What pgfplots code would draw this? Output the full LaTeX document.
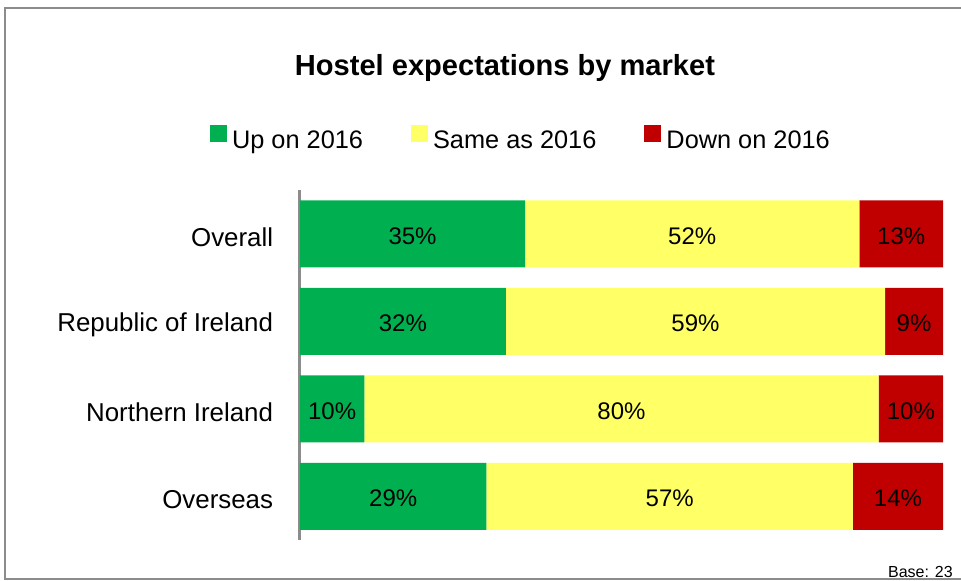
\documentclass[border=0pt]{standalone}
\usepackage{fontspec}
\setmainfont{Liberation Sans}
\usepackage{pgfplots}
\usepackage{pgfplotstable}
\pgfplotsset{compat=1.18}
\definecolor{cgreen}{HTML}{00B050}
\definecolor{cyellow}{HTML}{FFFF66}
\definecolor{cred}{HTML}{C00000}
\definecolor{cframe}{RGB}{140,140,140}
\pgfplotstableread{
y up same down
0 35 52 13
1 32 59 9
2 10 80 10
3 29 57 14
}\bardata
\pgfplotstableread{
x y v
17.5 0 35
61 0 52
93.5 0 13
16 1 32
61.5 1 59
95.5 1 9
5 2 10
50 2 80
95 2 10
14.5 3 29
57.5 3 57
93 3 14
}\labdata
\begin{document}
\begin{tikzpicture}
\useasboundingbox (0,0) rectangle (720.75pt,-435.75pt);
\draw[cframe, line width=1.5pt] (720.75pt,-6pt) -- (3.75pt,-6pt) -- (3.75pt,-434.25pt) -- (720.75pt,-434.25pt);
\node[font=\bfseries\fontsize{21.8}{26}\selectfont] at (378.75pt,-51pt) {Hostel expectations by market};
\node[anchor=east, font=\fontsize{12}{14}\selectfont, inner sep=0pt] at (714.75pt,-429pt) {Base: 23};
\begin{axis}[
  at={(225pt,-405pt)}, anchor=south west,
  width=482.25pt, height=262.5pt, scale only axis,
  xbar stacked,
  xmin=0, xmax=100, ymin=-0.5, ymax=3.5,
  y dir=reverse,
  bar width=50.25pt,
  axis x line=none,
  axis y line*=left,
  y axis line style={cframe, line width=2.25pt},
  ytick={0,1,2,3},
  yticklabels={Overall, Republic of Ireland, Northern Ireland, Overseas},
  major tick length=0pt,
  y tick label style={font=\fontsize{19.4}{23}\selectfont, inner sep=0pt, xshift=-20pt, yshift=-2.5pt},
  legend style={at={(0.3421,1.150)}, anchor=center, draw=none, fill=none, inner sep=0pt,
    font=\fontsize{19}{23}\selectfont,
    nodes={inner sep=0pt},
    /tikz/every odd column/.append style={column sep=3.75pt},
    /tikz/every even column/.append style={column sep=36pt}},
  legend columns=3,
  legend image code/.code={\fill[#1] (0pt,-0.75pt) rectangle (12.75pt,12pt);},
]
\addplot[fill=cgreen, draw=none] table[x=up, y=y] {\bardata};
\addplot[fill=cyellow, draw=none] table[x=same, y=y] {\bardata};
\addplot[fill=cred, draw=none] table[x=down, y=y] {\bardata};
\legend{Up on 2016, Same as 2016, Down on 2016}
\end{axis}
\begin{axis}[
  at={(225pt,-405pt)}, anchor=south west,
  width=482.25pt, height=262.5pt, scale only axis,
  xmin=0, xmax=100, ymin=-0.5, ymax=3.5,
  y dir=reverse, hide axis, clip=false,
]
\addplot[draw=none, mark=none, nodes near coords={\pgfmathprintnumber[fixed,precision=0,assume math mode=true]{\pgfplotspointmeta}\%},
  nodes near coords align=center, point meta=explicit,
  every node near coord/.append style={font=\fontsize{18}{22}\selectfont, text=black, inner sep=0pt, yshift=-1.5pt}]
  table[x=x, y=y, meta=v] {\labdata};
\end{axis}
\end{tikzpicture}
\end{document}
